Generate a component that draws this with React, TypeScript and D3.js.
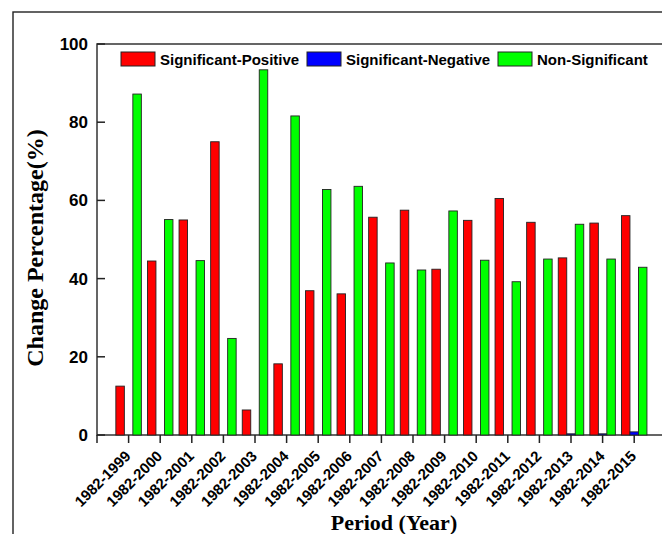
import React, { useEffect, useRef } from "react";
import * as d3 from "d3";

// periods on the x axis
const periods = [
  "1982-1999", "1982-2000", "1982-2001", "1982-2002", "1982-2003", "1982-2004",
  "1982-2005", "1982-2006", "1982-2007", "1982-2008", "1982-2009", "1982-2010",
  "1982-2011", "1982-2012", "1982-2013", "1982-2014", "1982-2015",
];

const seriesNames = ["Significant-Positive", "Significant-Negative", "Non-Significant"];

const sigPositive = [12.5, 44.5, 55.0, 75.0, 6.4, 18.2, 36.9, 36.1, 55.7, 57.5, 42.4, 54.9, 60.5, 54.4, 45.3, 54.2, 56.1];
const sigNegative = [0, 0, 0, 0, 0, 0, 0, 0, 0, 0, 0, 0, 0, 0, 0.3, 0.3, 0.8];
const nonSignificant = [87.2, 55.1, 44.6, 24.7, 93.4, 81.6, 62.8, 63.6, 44.0, 42.2, 57.3, 44.7, 39.2, 45.0, 53.9, 45.0, 42.9];

const yTicks = [0, 20, 40, 60, 80, 100];

const colors = ["#ff0000", "#0000ff", "#00ff00"];

export default function App() {
  const svgRef = useRef<SVGSVGElement>(null);

  useEffect(() => {
    const svg = d3.select(svgRef.current);
    svg.selectAll("*").remove();

    const left = 97;
    const top = 44;
    const bottom = 435;
    const step = 31.6;

    const x = d3.scaleLinear().domain([0, periods.length + 1]).range([left, left + step * (periods.length + 1)]);
    const y = d3.scaleLinear().domain([0, 100]).range([bottom, top]);
    const inner = d3.scaleBand<string>().domain(seriesNames).range([-12.75, 12.75]);

    // outer frame
    svg.append("rect")
      .attr("x", 13).attr("y", 12)
      .attr("width", 700).attr("height", 600)
      .attr("fill", "none").attr("stroke", "#222").attr("stroke-width", 1.4);

    // plot frame
    svg.append("rect")
      .attr("x", left).attr("y", top)
      .attr("width", x.range()[1] - left).attr("height", bottom - top)
      .attr("fill", "none").attr("stroke", "#333").attr("stroke-width", 1.5);

    const data = [sigPositive, sigNegative, nonSignificant];

    // bars
    data.forEach((vals, s) => {
      svg.append("g")
        .selectAll("rect")
        .data(vals)
        .join("rect")
        .attr("x", (d, i) => x(i + 1) + (inner(seriesNames[s]) as number))
        .attr("y", (d) => y(d))
        .attr("width", inner.bandwidth())
        .attr("height", (d) => y(0) - y(d))
        .attr("fill", colors[s])
        .attr("stroke", (d) => (d > 0 ? "#222" : "none"))
        .attr("stroke-width", 0.9);
    });

    // y axis ticks (inward)
    const yAxis = svg.append("g");
    yAxis.selectAll("line")
      .data(yTicks)
      .join("line")
      .attr("x1", left).attr("x2", left + 8)
      .attr("y1", (d) => y(d)).attr("y2", (d) => y(d))
      .attr("stroke", "#222").attr("stroke-width", 1.5);
    yAxis.selectAll("text")
      .data(yTicks)
      .join("text")
      .attr("x", 88)
      .attr("y", (d) => y(d) + 6)
      .attr("text-anchor", "end")
      .attr("font-family", "'Liberation Sans', Arial, sans-serif")
      .attr("font-weight", "bold")
      .attr("font-size", 17)
      .text((d) => d);

    // x axis ticks (outward)
    const xAxis = svg.append("g");
    xAxis.selectAll("line")
      .data(d3.range(0, periods.length + 1))
      .join("line")
      .attr("x1", (d) => x(d)).attr("x2", (d) => x(d))
      .attr("y1", bottom).attr("y2", bottom + 8)
      .attr("stroke", "#222").attr("stroke-width", 1.5);
    xAxis.selectAll("text")
      .data(periods)
      .join("text")
      .attr("transform", (d, i) => `translate(${x(i + 1) + 3},${bottom + 22}) rotate(-45)`)
      .attr("text-anchor", "end")
      .attr("font-family", "'Liberation Sans', Arial, sans-serif")
      .attr("font-weight", "bold")
      .attr("font-size", 15)
      .text((d) => d);

    // axis titles
    svg.append("text")
      .attr("transform", `translate(43,248) rotate(-90)`)
      .attr("text-anchor", "middle")
      .attr("font-family", "'Liberation Serif', 'Times New Roman', serif")
      .attr("font-weight", "bold")
      .attr("font-size", 24)
      .text("Change Percentage(%)");

    svg.append("text")
      .attr("x", 394).attr("y", 530)
      .attr("text-anchor", "middle")
      .attr("font-family", "'Liberation Serif', 'Times New Roman', serif")
      .attr("font-weight", "bold")
      .attr("font-size", 22)
      .text("Period (Year)");

    // legend
    const legendX = [121, 307, 498];
    const legend = svg.append("g");
    seriesNames.forEach((name, s) => {
      legend.append("rect")
        .attr("x", legendX[s]).attr("y", 52)
        .attr("width", 34).attr("height", 14)
        .attr("fill", colors[s]).attr("stroke", "#222").attr("stroke-width", 1);
      legend.append("text")
        .attr("x", legendX[s] + 39).attr("y", 64.5)
        .attr("font-family", "'Liberation Sans', Arial, sans-serif")
        .attr("font-weight", "bold")
        .attr("font-size", 15)
        .text(name);
    });
  }, []);

  return (
    <svg
      ref={svgRef}
      width={662}
      height={534}
      style={{ position: "absolute", left: 0, top: 0, background: "#fff" }}
    />
  );
}
